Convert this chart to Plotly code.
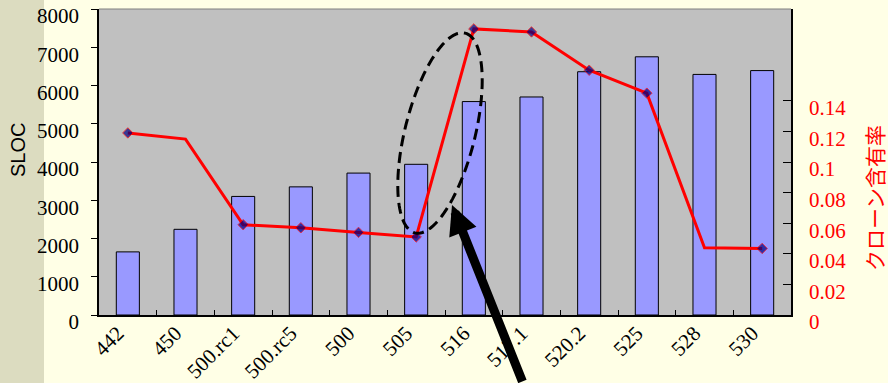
import numpy as np
import plotly.graph_objects as go

# Release versions and measurements
versions = ['442', '450', '500.rc1', '500.rc5', '500', '505', '516', '517.1',
            '520.2', '525', '528', '530']
sloc = [1650, 2240, 3100, 3350, 3710, 3940, 5580, 5700, 6360, 6750, 6290, 6390]
clone_rate = [0.119, 0.115, 0.059, 0.057, 0.054, 0.051, 0.187, 0.185,
              0.160, 0.145, 0.044, 0.0435]

sloc_ticks = [0, 1000, 2000, 3000, 4000, 5000, 6000, 7000, 8000]
rate_ticks = [0, 0.02, 0.04, 0.06, 0.08, 0.1, 0.12, 0.14]

# which points of the ratio line carry a diamond marker
has_marker = [True, False, True, True, True, True, True, True, True, True, False, True]

W, H = 888, 383
ML, MR, MT, MB = 99, 97, 9, 68
PW, PH = W - ML - MR, H - MT - MB

SERIF = 'Liberation Serif, Times New Roman, serif'


def px_to_paper(px, py):
    return (px - ML) / PW, (MT + PH - py) / PH


fig = go.Figure()

fig.add_trace(go.Bar(
    x=versions, y=sloc, yaxis='y',
    marker=dict(color='#9999ff', line=dict(color='black', width=1)),
    showlegend=False,
))

fig.add_trace(go.Scatter(
    x=versions, y=clone_rate, yaxis='y2', mode='lines+markers',
    line=dict(color='#ff0000', width=3),
    marker=dict(symbol='diamond', color='#000080',
                size=[8 if m else 0 for m in has_marker]),
    showlegend=False,
))

# dashed tilted ellipse around the jump
cx, cy, a, b = 440.0, 133.0, 103.0, 35.0
u = np.array([50.0, -199.0]); u /= np.linalg.norm(u)
v = np.array([-u[1], u[0]])
t = np.linspace(0, 2 * np.pi, 121)
ex = cx + a * np.cos(t) * u[0] + b * np.sin(t) * v[0]
ey = cy + a * np.cos(t) * u[1] + b * np.sin(t) * v[1]
pts = [px_to_paper(x, y) for x, y in zip(ex, ey)]
path = 'M ' + ' L '.join(f'{x:.5f},{y:.5f}' for x, y in pts) + ' Z'

shapes = [
    # darker strip on the left side of the page
    dict(type='rect', xref='paper', yref='paper',
         x0=-ML / PW, x1=(44 - ML) / PW, y0=-MB / PH, y1=(PH + MT) / PH,
         fillcolor='#dcdcc0', line=dict(width=0), layer='below'),
    # top border of plot area
    dict(type='line', xref='paper', yref='paper', x0=0, x1=1, y0=1, y1=1,
         line=dict(color='#808080', width=1)),
    dict(type='path', xref='paper', yref='paper', path=path,
         line=dict(color='black', width=3, dash='11px,6px')),
]

tip_x, tip_y = px_to_paper(452, 205)

annotations = [
    dict(text='SLOC', xref='paper', yref='paper',
         x=px_to_paper(18, 150)[0], y=px_to_paper(18, 150)[1],
         xanchor='center', yanchor='middle',
         textangle=-90, showarrow=False,
         font=dict(family='Liberation Sans, Arial, sans-serif', size=20, color='black')),
    dict(text='クローン含有率', xref='paper', yref='paper',
         x=px_to_paper(874, 198)[0], y=px_to_paper(874, 198)[1],
         xanchor='center', yanchor='middle',
         textangle=-90, showarrow=False,
         font=dict(family='Noto Sans CJK JP', size=21, color='#ff0000')),
    dict(text='', xref='paper', yref='paper', x=tip_x, y=tip_y,
         ax=71, ay=195, showarrow=True, arrowhead=2, arrowsize=0.65,
         arrowwidth=9, arrowcolor='black'),
]

fig.update_layout(
    width=W, height=H,
    margin=dict(l=ML, r=MR, t=MT, b=MB, pad=0, autoexpand=False),
    paper_bgcolor='#ffffe6',
    plot_bgcolor='#c0c0c0',
    bargap=0.6,
    shapes=shapes,
    annotations=annotations,
    xaxis=dict(
        type='category', automargin=False, range=[-0.5, len(versions) - 0.5],
        showline=True, linecolor='black', linewidth=1.5,
        ticks='inside', tickson='boundaries', ticklen=5, tickcolor='black',
        tickangle=-45, showgrid=False,
        ticklabelshift=-10, ticklabelstandoff=-4,
        tickfont=dict(family=SERIF, size=21, color='black'),
    ),
    yaxis=dict(
        automargin=False,
        range=[0, 8000], tickvals=sloc_ticks, showgrid=False, zeroline=False,
        showline=True, linecolor='black', linewidth=1.5,
        ticks='outside', ticklen=6, tickcolor='black', ticklabelstandoff=8,
        ticklabelshift=7, ticklabeloverflow='allow',
        tickfont=dict(family=SERIF, size=21, color='black'),
    ),
    yaxis2=dict(
        automargin=False,
        overlaying='y', side='right', range=[0, 0.2], tickvals=rate_ticks,
        showgrid=False, zeroline=False,
        showline=True, linecolor='black', linewidth=1.5,
        ticks='inside', ticklen=8, tickcolor='black', ticklabelstandoff=12,
        ticklabelshift=7, ticklabeloverflow='allow',
        tickfont=dict(family=SERIF, size=21, color='#ff0000'),
    ),
)

fig.write_html('out.html')
